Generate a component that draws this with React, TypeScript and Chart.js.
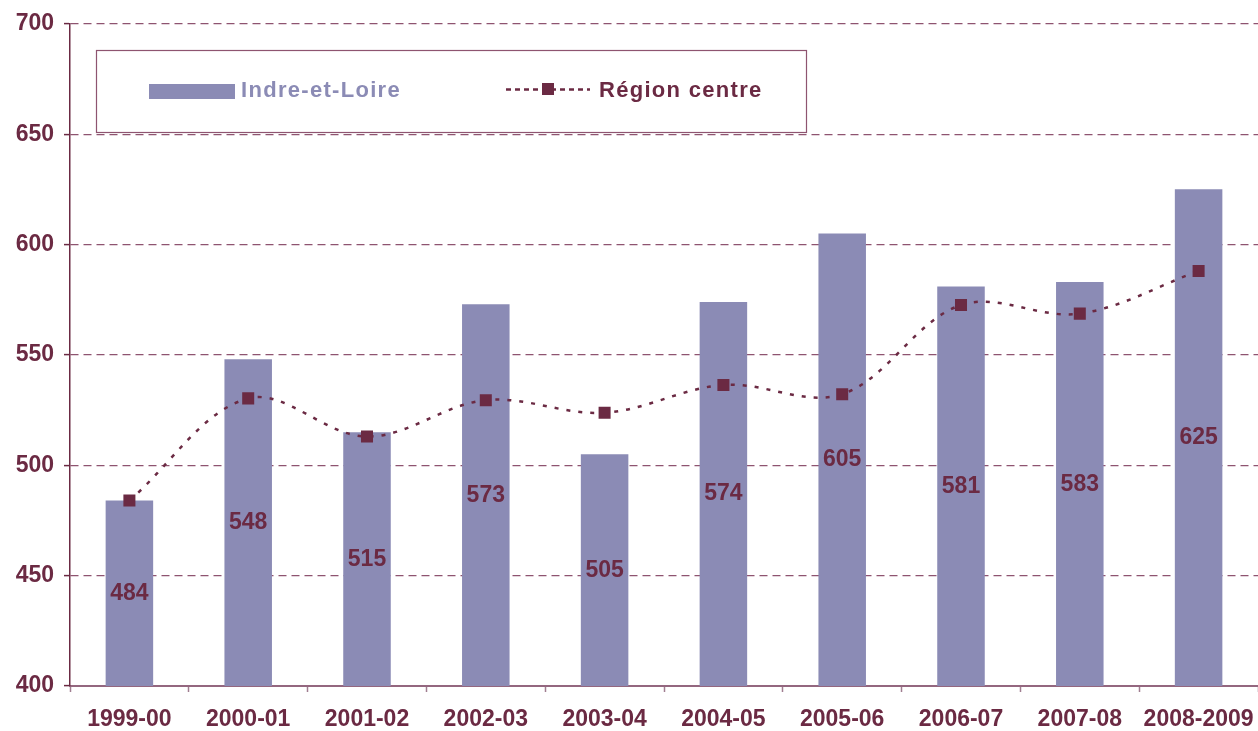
import React, { useEffect, useRef } from "react";
import { Chart, registerables } from "chart.js";

Chart.register(...registerables);

const categories = [
  "1999-00",
  "2000-01",
  "2001-02",
  "2002-03",
  "2003-04",
  "2004-05",
  "2005-06",
  "2006-07",
  "2007-08",
  "2008-2009",
];
const indreEtLoire = [484, 548, 515, 573, 505, 574, 605, 581, 583, 625];
const regionCentre = [484, 530.3, 513, 529.5, 523.8, 536.4, 532.2, 572.6, 568.7, 588];
const yTicks = [400, 450, 500, 550, 600, 650, 700];
const seriesNames = ["Indre-et-Loire", "Région centre"];

const MAROON = "#6B2A43";
const BAR = "#8B8BB5";
const GRID = "#8E5470";
const FONT = "'Liberation Sans', Arial, sans-serif";

const overlayPlugin = {
  id: "overlayDraw",
  afterDraw(chart: any) {
    const ctx = chart.ctx;
    // bar value labels, centred in each bar
    try {
      const yScale = chart.scales.y;
      const xScale = chart.scales.x;
      ctx.save();
      ctx.font = `bold 23px ${FONT}`;
      ctx.fillStyle = MAROON;
      ctx.textAlign = "center";
      ctx.textBaseline = "alphabetic";
      indreEtLoire.forEach((v, i) => {
        const x = xScale.getPixelForValue(i);
        const top = yScale.getPixelForValue(v);
        const base = yScale.getPixelForValue(400);
        ctx.fillText(String(v), x, (top + base) / 2 + 6.5);
      });
      ctx.restore();
    } catch (e: any) {
      ctx.fillStyle = "red";
      ctx.fillText(String(e), 300, 300);
    }
    // legend
    ctx.save();
    ctx.fillStyle = "#ffffff";
    ctx.fillRect(96, 50, 710, 82);
    ctx.strokeStyle = GRID;
    ctx.lineWidth = 1.2;
    ctx.strokeRect(96.5, 50.5, 710, 82);
    ctx.fillStyle = BAR;
    ctx.fillRect(149, 84, 86, 15);
    ctx.font = `bold 22px ${FONT}`;
    (ctx as any).letterSpacing = "1.3px";
    ctx.textBaseline = "alphabetic";
    ctx.textAlign = "left";
    ctx.fillText(seriesNames[0], 241, 97);
    ctx.strokeStyle = MAROON;
    ctx.lineWidth = 2.5;
    ctx.setLineDash([5, 4]);
    ctx.beginPath();
    ctx.moveTo(506, 89.5);
    ctx.lineTo(590, 89.5);
    ctx.stroke();
    ctx.setLineDash([]);
    ctx.fillStyle = MAROON;
    ctx.fillRect(542, 83, 12, 12);
    ctx.fillText(seriesNames[1], 599, 97);
    ctx.restore();
  },
};

export default function App() {
  const ref = useRef<HTMLCanvasElement | null>(null);

  useEffect(() => {
    document.body.style.margin = "0";
    const canvas = ref.current;
    if (!canvas) return;
    const chart = new Chart(canvas, {
      type: "bar",
      data: {
        labels: categories,
        datasets: [
          {
            type: "line",
            label: seriesNames[1],
            data: regionCentre,
            borderColor: MAROON,
            backgroundColor: MAROON,
            borderWidth: 2.5,
            borderDash: [4, 8],
            tension: 0.35,
            pointStyle: "rect",
            pointRadius: 8.5,
            pointBorderWidth: 0,
            pointBackgroundColor: MAROON,
            fill: false,
            order: 0,
          } as any,
          {
            type: "bar",
            label: seriesNames[0],
            data: indreEtLoire,
            backgroundColor: BAR,
            borderWidth: 0,
            barPercentage: 0.4,
            categoryPercentage: 1,
            order: 1,
          },
        ],
      },
      options: {
        responsive: false,
        animation: false,
        layout: { autoPadding: false, padding: { top: 22, left: 0, right: 0, bottom: 0 } },
        plugins: {
          legend: { display: false },
          tooltip: { enabled: false },
        },
        scales: {
          x: {
            grid: {
              display: true,
              drawOnChartArea: false,
              drawTicks: true,
              tickLength: 6,
              tickColor: "#A07E90",
              tickWidth: 1.5,
              offset: true,
              color: "#A07E90",
            },
            border: { display: true, color: "#94677F", width: 2 },
            ticks: {
              color: MAROON,
              font: { family: FONT, size: 23, weight: "bold" },
              padding: 14,
              maxRotation: 0,
              autoSkip: false,
            },
            afterFit: (s: any) => {
              s.height = 45;
              s.paddingLeft = 0;
              s.paddingRight = 0;
            },
          },
          y: {
            min: 400,
            max: 700,
            afterBuildTicks: (s: any) => {
              s.ticks = yTicks.map((v) => ({ value: v }));
            },
            grid: {
              color: (c: any) => (c.tick && c.tick.value === 400 ? "rgba(0,0,0,0)" : GRID),
              lineWidth: 1.2,
              drawTicks: true,
              tickLength: 6,
              tickColor: MAROON,
              tickWidth: 1.5,
            },
            border: { display: true, color: MAROON, width: 1.5, dash: [8, 5] },
            ticks: {
              color: MAROON,
              font: { family: FONT, size: 23, weight: "bold" },
              padding: 10,
            },
            afterFit: (s: any) => {
              s.width = 70;
            },
          },
        },
      },
      plugins: [overlayPlugin],
    });
    return () => chart.destroy();
  }, []);

  return (
    <div style={{ position: "relative", width: 1258, height: 731 }}>
      <canvas ref={ref} width={1258} height={731} />
    </div>
  );
}
